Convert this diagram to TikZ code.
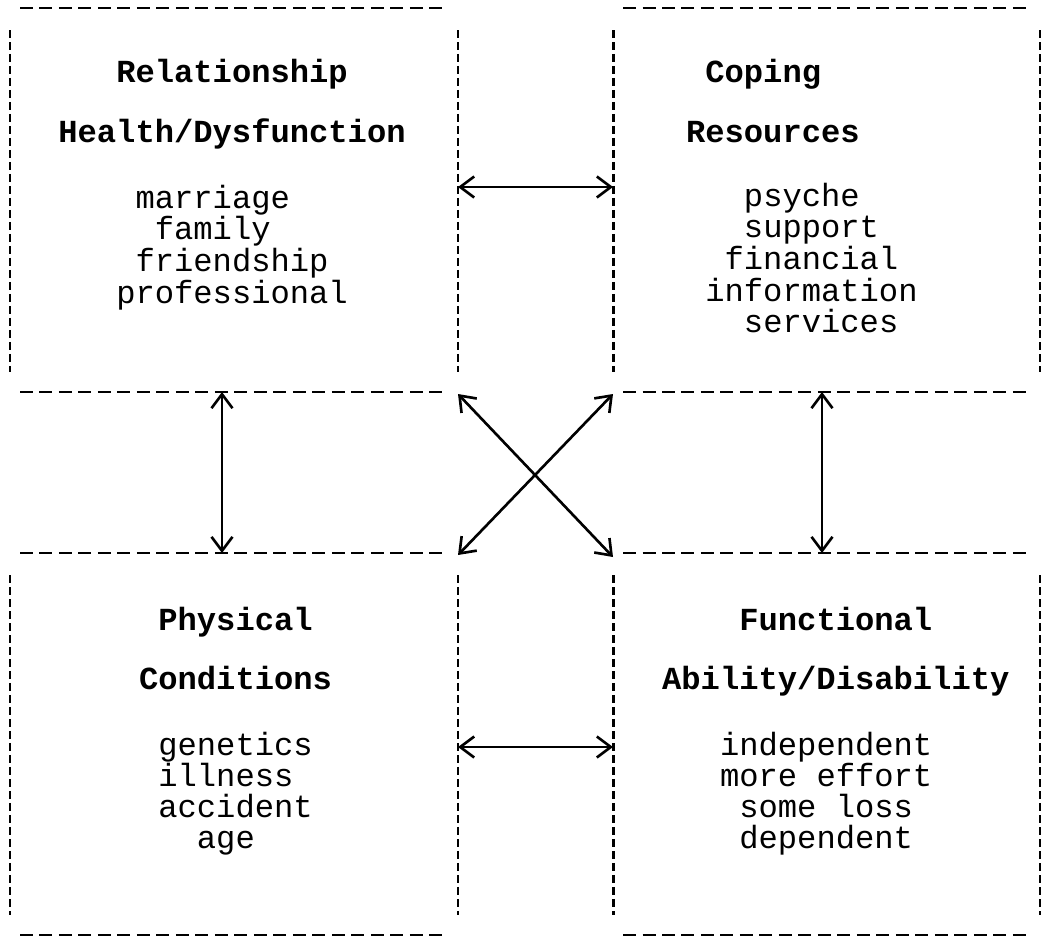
\documentclass[tikz,border=0pt]{standalone}
\usepackage{fontspec}
\setmonofont{Liberation Mono}
\usetikzlibrary{arrows.meta}

\begin{document}
\begin{tikzpicture}[x=0.02cm, y=-0.02cm,
  hline/.style={line width=1.6pt, dash pattern=on 0.26cm off 0.13cm},
  vline/.style={line width=1.7pt, dash pattern=on 0.16cm off 0.08cm},
  txt/.style={font=\fontsize{18.3}{18}\selectfont\ttfamily, anchor=base west, inner sep=0pt},
  head/.style={txt, font=\fontsize{18.3}{18}\selectfont\ttfamily\bfseries},
  link/.style={line width=1.5pt,
    {Straight Barb[length=2.8mm,width=4.2mm]}-{Straight Barb[length=2.8mm,width=4.2mm]}},
]
\useasboundingbox (0,0) rectangle (1041,937);

% dashed frames
\foreach \xa/\ya/\xb/\yb in {10/8/458/392, 613/8/1040/392, 10/553/458/935, 613/553/1040/935} {
  \draw[hline] (\xa+10,\ya) -- (\xb-10,\ya) (\xa+10,\yb) -- (\xb-10,\yb);
  \draw[vline] (\xa,\ya+22) -- (\xa,\yb-20) (\xb,\ya+22) -- (\xb,\yb-20);
}

% Relationship
\node[head] (rel1) at ({58+3*19.3},82) {Relationship};
\node[head] (rel2) at (58,142) {Health/Dysfunction};
\foreach \c/\t [count=\i] in {4/marriage, 5/family, 4/friendship, 3/professional}
  \node[txt] (rel-\i) at ({58+\c*19.3},{208+31.7*(\i-1)}) {\t};

% Coping
\node[head] (cop1) at (705,82) {Coping};
\node[head] (cop2) at ({705-19.3},142) {Resources};
\foreach \c/\t [count=\i] in {2/psyche, 2/support, 1/financial, 0/information, 2/services}
  \node[txt] (cop-\i) at ({705+\c*19.3},{206+31.7*(\i-1)}) {\t};

% Physical
\node[head] (phy1) at (158,630) {Physical};
\node[head] (phy2) at ({158-19.3},689) {Conditions};
\foreach \c/\t [count=\i] in {0/genetics, 0/illness, 0/accident, 2/age}
  \node[txt] (phy-\i) at ({158+\c*19.3},{755+31.3*(\i-1)}) {\t};

% Functional
\node[head] (fun1) at (739,630) {Functional};
\node[head] (fun2) at ({739-4*19.3},689) {Ability/Disability};
\foreach \c/\t [count=\i] in {-1/independent, -1/more effort, 0/some loss, 0/dependent}
  \node[txt] (fun-\i) at ({739+\c*19.3},{755+31.3*(\i-1)}) {\t};

% arrow ends
\coordinate (rel-e) at (458,187);
\coordinate (cop-w) at (613,187);
\coordinate (phy-e) at (458,747);
\coordinate (fun-w) at (613,747);
\coordinate (rel-s) at (222,392);
\coordinate (phy-n) at (222,553);
\coordinate (cop-s) at (822,392);
\coordinate (fun-n) at (822,553);
\coordinate (rel-se) at (458,394);
\coordinate (cop-sw) at (613,394);
\coordinate (phy-ne) at (458,555);
\coordinate (fun-nw) at (613,557);

\draw[link] (rel-e) -- (cop-w);
\draw[link] (phy-e) -- (fun-w);
\draw[link] (rel-s) -- (phy-n);
\draw[link] (cop-s) -- (fun-n);
\draw[link] (rel-se) -- (fun-nw);
\draw[link] (cop-sw) -- (phy-ne);
\end{tikzpicture}
\end{document}
